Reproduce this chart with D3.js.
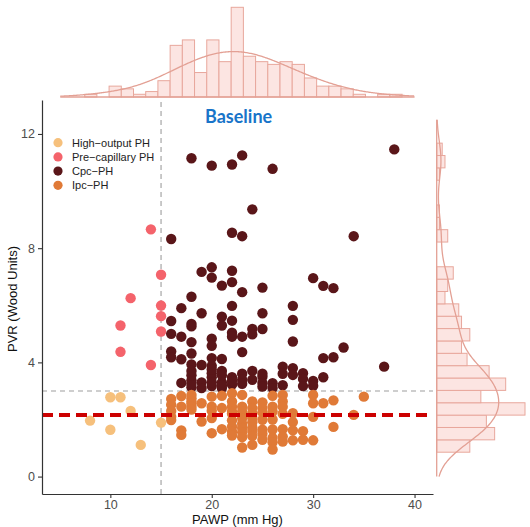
<!DOCTYPE html>
<html><head><meta charset="utf-8">
<script src="https://cdn.jsdelivr.net/npm/d3@7"></script>
<style>body{margin:0;background:#fff} svg{display:block}</style>
</head><body>
<svg id="chart" width="530" height="527"></svg>
<script>
// ---------------- DATA ----------------
const groups = ["High\u2212output PH", "Pre\u2212capillary PH", "Cpc\u2212PH", "Ipc\u2212PH"];
const groupColors = ["#F6C07C", "#F4636B", "#5A1619", "#E07A37"];

// [PAWP (mm Hg), PVR (Wood Units)]
const highOutputPH = [[10,2.78],[11,2.78],[12,2.30],[8,1.96],[10,1.64],[13,1.11],[15,1.89]];
const preCapillaryPH = [[14,8.66],[15,7.07],[12,6.25],[15,5.99],[15,5.62],[11,5.29],[15,5.08],[11,4.37],[14,3.91]];
const cpcPH = [
  [16,8.32],[16,5.45],[16,5.00],[16,4.38],[16,4.18],
  [17,5.90],[17,4.90],[17,4.11],[17,3.28],
  [18,11.15],[18,6.30],[18,5.35],[18,5.26],[18,4.71],[18,4.31],[18,3.93],[18,3.37],[18,3.13],[18,3.25],[18,3.55],[18,3.70],
  [19,7.17],[19,5.72],[19,3.91],[19,3.30],[19,3.10],
  [20,10.89],[20,7.33],[20,6.97],[20,4.83],[20,4.58],[20,4.15],[20,3.88],[20,3.62],[20,3.48],[20,3.17],[20,3.30],[20,3.75],
  [21,6.69],[21,5.60],[21,5.29],[21,4.12],[21,3.70],[21,3.30],[21,3.10],[21,3.20],[21,3.55],
  [22,10.93],[22,8.54],[22,7.21],[22,6.81],[22,5.98],[22,5.46],[22,5.04],[22,4.90],[22,3.48],[22,3.22],[22,3.35],
  [23,11.25],[23,8.42],[23,6.46],[23,4.90],[23,4.36],[23,3.60],[23,3.39],[23,3.25],
  [24,9.36],[24,5.17],[24,4.98],[24,3.70],[24,3.39],
  [25,6.62],[25,5.72],[25,5.17],[25,3.50],[25,3.28],[25,3.15],[25,3.60],
  [26,10.78],[26,3.27],[26,3.10],
  [27,3.85],[27,3.20],[27,3.60],
  [28,5.98],[28,5.49],[28,4.73],[28,3.80],[28,3.56],
  [29,3.62],[29,3.42],[29,3.17],
  [30,6.95],[30,3.35],[30,3.18],
  [31,6.68],[31,4.15],[31,3.48],
  [32,6.60],[32,4.18],
  [33,4.52],[34,8.42],[37,3.85],[38,11.46]
];
const ipcPH = [
  [16,2.72],[16,2.52],[16,2.30],[16,2.10],[16,1.98],
  [17,2.82],[17,2.45],[17,1.62],[17,1.46],
  [18,2.86],[18,2.74],[18,2.63],[18,2.55],[18,2.45],[18,2.35],
  [19,2.57],[19,1.93],
  [20,2.80],[20,2.45],[20,2.31],[20,2.05],[20,1.52],
  [21,2.83],[21,2.40],[21,1.66],
  [22,2.92],[22,2.63],[22,2.45],[22,2.28],[22,2.20],[22,1.97],[22,1.75],[22,1.58],[22,1.44],
  [23,2.86],[23,2.45],[23,2.28],[23,2.04],[23,1.85],[23,1.70],[23,1.55],[23,1.38],[23,1.02],
  [24,2.63],[24,2.40],[24,2.22],[24,2.05],[24,1.90],[24,1.72],[24,1.60],[24,1.42],[24,1.11],
  [25,2.60],[25,2.40],[25,2.25],[25,1.99],[25,1.64],[25,1.50],[25,1.29],
  [26,2.83],[26,2.45],[26,2.28],[26,2.00],[26,1.65],[26,1.35],[26,1.20],[26,0.95],
  [27,2.86],[27,2.63],[27,2.45],[27,2.20],[27,1.66],[27,1.40],[27,1.23],
  [28,2.22],[28,1.91],[28,1.62],[28,1.27],
  [29,1.59],[29,1.29],
  [30,2.86],[30,2.57],[30,2.09],[30,1.27],
  [31,2.57],[32,2.67],[32,1.74],[34,2.16],[35,2.80]
];

// marginal histograms (counts)
const topBinStart = 5.06, topBinWidth = 1.204;
const topCounts = [0,0,1,0,4,3,1,2,6,19,21,9,21,13,33,15,13,12,13,12,7,4,4,3,1,0,1,1,0];
const rightBinStart = 0.854, rightBinWidth = 0.433;
const rightCounts = [12,21,18,32,16,25,19,11,9,12,9,8,3,4,6,0,0,4,1,1,0,0,1,3,2];

const xTicks = [10, 20, 30, 40];
const yTicks = [0, 4, 8, 12];
const pawpCut = 15, pvrCut = 3, pvrMeanLine = 2.16;
const titleText = "Baseline";
const xTitle = "PAWP (mm Hg)";
const yTitle = "PVR (Wood Units)";

// ---------------- DRAW ----------------
const svg = d3.select("#chart");
const font = "'Liberation Sans', Arial, sans-serif";
const x = d3.scaleLinear().domain([3.26, 41.82]).range([42, 433]);
const y = d3.scaleLinear().domain([-0.61, 13.19]).range([494, 100]);

const histFill = "#FCE5E2", histStroke = "#E8A79C", densColor = "#E3A094";

// ---- top marginal ----
const topBase = 97;
const topY = d3.scaleLinear().domain([0, 33]).range([topBase, 7.3]);
const topG = svg.append("g");
topG.selectAll("rect").data(topCounts).join("rect")
  .attr("x", (d,i) => x(topBinStart + i*topBinWidth))
  .attr("width", (d,i) => x(topBinStart + (i+1)*topBinWidth) - x(topBinStart + i*topBinWidth))
  .attr("y", d => topY(d))
  .attr("height", d => topBase - topY(d))
  .attr("fill", histFill).attr("stroke", histStroke).attr("stroke-width", 1);

// ---- right marginal ----
const rightBase = 436.7;
const rightX = d3.scaleLinear().domain([0, 32]).range([rightBase, 525]);
const rightG = svg.append("g");
rightG.selectAll("rect").data(rightCounts).join("rect")
  .attr("y", (d,i) => y(rightBinStart + (i+1)*rightBinWidth))
  .attr("height", (d,i) => y(rightBinStart + i*rightBinWidth) - y(rightBinStart + (i+1)*rightBinWidth))
  .attr("x", rightBase)
  .attr("width", d => rightX(d) - rightBase)
  .attr("fill", histFill).attr("stroke", histStroke).attr("stroke-width", 1);

// densities (Gaussian KDE of the plotted points, scaled to counts)
const allPts = [].concat(highOutputPH, preCapillaryPH, cpcPH, ipcPH);
function bwNrd0(v) {
  const s = v.slice().sort(d3.ascending);
  const q = (d3.quantile(s, 0.75) - d3.quantile(s, 0.25)) / 1.34;
  return 0.9 * Math.min(d3.deviation(v), q) * Math.pow(v.length, -0.2);
}
function kde(v, bw, grid) {
  return grid.map(g => [g, d3.mean(v, t => Math.exp(-0.5*((g-t)/bw)**2)) / (bw*Math.sqrt(2*Math.PI))]);
}
const xv = allPts.map(d => d[0]), yv = allPts.map(d => d[1]);
const n = allPts.length;
const topDens = kde(xv, bwNrd0(xv)*1.9, d3.range(5.06, 40.01, 0.1));
const rightDens = kde(yv, bwNrd0(yv)*1.1, d3.range(0, 12.51, 0.05));
topG.append("path")
  .attr("d", d3.line().x(d => x(d[0])).y(d => topY(d[1]*n*topBinWidth)).curve(d3.curveBasis)(topDens))
  .attr("fill", "none").attr("stroke", densColor).attr("stroke-width", 1.3);
topG.append("line").attr("x1", x(5.06)).attr("x2", x(40)).attr("y1", topBase).attr("y2", topBase)
  .attr("stroke", densColor).attr("stroke-width", 1.3);
rightG.append("path")
  .attr("d", d3.line().y(d => y(d[0])).x(d => rightX(d[1]*n*rightBinWidth)).curve(d3.curveBasis)(rightDens))
  .attr("fill", "none").attr("stroke", densColor).attr("stroke-width", 1.3);
rightG.append("line").attr("y1", y(0)).attr("y2", y(12.5)).attr("x1", rightBase).attr("x2", rightBase)
  .attr("stroke", densColor).attr("stroke-width", 1.3);

// ---- reference lines ----
const [x0, x1] = x.range(), [yb, yt] = y.range();
svg.append("line").attr("x1", x(pawpCut)).attr("x2", x(pawpCut)).attr("y1", yb).attr("y2", yt)
  .attr("stroke", "#9E9E9E").attr("stroke-width", 1.1).attr("stroke-dasharray", "5,4");
svg.append("line").attr("x1", x0).attr("x2", x1).attr("y1", y(pvrCut)).attr("y2", y(pvrCut))
  .attr("stroke", "#9E9E9E").attr("stroke-width", 1.1).attr("stroke-dasharray", "5,4");

// ---- points ----
const groupData = [highOutputPH, preCapillaryPH, cpcPH, ipcPH];
groupData.forEach((arr, gi) => {
  svg.append("g").selectAll("circle").data(arr).join("circle")
    .attr("cx", d => x(d[0])).attr("cy", d => y(d[1])).attr("r", 5.2)
    .attr("fill", groupColors[gi]);
});

// red dashed line
svg.append("line").attr("x1", x0).attr("x2", x1).attr("y1", y(pvrMeanLine)).attr("y2", y(pvrMeanLine))
  .attr("stroke", "#CC0000").attr("stroke-width", 4).attr("stroke-dasharray", "11,6");

// ---- axes ----
const xAxis = svg.append("g").attr("transform", `translate(0,${yb})`)
  .call(d3.axisBottom(x).tickValues(xTicks).tickSize(4).tickSizeOuter(0).tickPadding(2));
const yAxis = svg.append("g").attr("transform", `translate(${x0},0)`)
  .call(d3.axisLeft(y).tickValues(yTicks).tickSize(4).tickSizeOuter(0).tickPadding(3));
[xAxis, yAxis].forEach(a => {
  a.select(".domain").attr("stroke", "#333").attr("stroke-width", 1.2);
  a.selectAll(".tick line").attr("stroke", "#333").attr("stroke-width", 1.1);
  a.selectAll(".tick text").attr("fill", "#4D4D4D").style("font-family", font).style("font-size", "12.5px");
});

svg.append("text").attr("x", (x0 + x1)/2).attr("y", 523.5).attr("text-anchor", "middle")
  .style("font-family", font).style("font-size", "13px").attr("fill", "#111").text(xTitle);
svg.append("text").attr("transform", "translate(17,299) rotate(-90)").attr("text-anchor", "middle")
  .style("font-family", font).style("font-size", "13px").attr("fill", "#111").text(yTitle);

// ---- title ----
svg.append("text").attr("x", 205).attr("y", 123).style("font-family", "Lato, 'Open Sans', sans-serif")
  .style("font-weight", "bold").style("font-size", "18px").attr("fill", "#1874C9").text(titleText);

// ---- legend ----
const leg = svg.append("g");
groups.forEach((g, i) => {
  const cy = 142.7 + i*14.2;
  leg.append("circle").attr("cx", 58).attr("cy", cy).attr("r", 4.6).attr("fill", groupColors[i]);
  leg.append("text").attr("x", 72).attr("y", cy + 4).style("font-family", font).style("font-size", "11px")
    .attr("fill", "#222").text(g);
});
</script>
</body></html>
